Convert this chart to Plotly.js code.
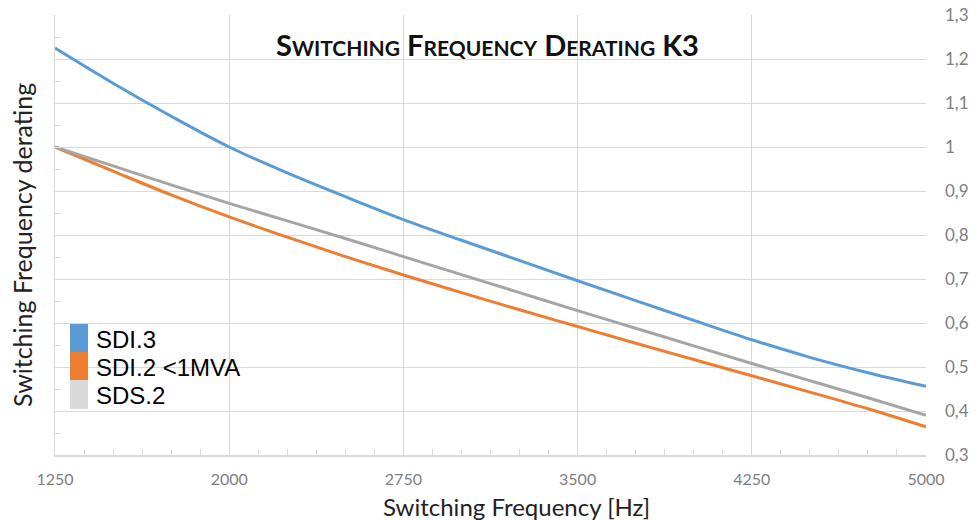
<!DOCTYPE html>
<html>
<head>
<meta charset="utf-8">
<script src="https://cdn.plot.ly/plotly-3.0.1.min.js"></script>
<style>html,body{margin:0;padding:0;background:#fff;}#chart{width:976px;height:520px;}</style>
</head>
<body>
<div id="chart"></div>
<script>
// Switching frequency [Hz]
var freq = [1250, 1500, 1750, 2000, 2250, 2500, 2750, 3000, 3250, 3500, 3750, 4000, 4250, 4500, 4750, 5000];
// Derating factor per series
var sdi3 = [1.225, 1.145, 1.070, 1.0, 0.941, 0.887, 0.835, 0.788, 0.742, 0.696, 0.651, 0.606, 0.562, 0.522, 0.487, 0.456];
var sdi2 = [1.0, 0.945, 0.891, 0.841, 0.795, 0.751, 0.709, 0.669, 0.630, 0.592, 0.554, 0.517, 0.480, 0.443, 0.405, 0.364];
var sds2 = [1.0, 0.957, 0.914, 0.872, 0.832, 0.792, 0.751, 0.710, 0.669, 0.628, 0.588, 0.548, 0.508, 0.469, 0.430, 0.390];
var seriesNames = ["SDI.3", "SDI.2 <1MVA", "SDS.2"];
var lineColors = ["#5b9bd5", "#ed7d31", "#a5a5a5"];
var legendColors = ["#5b9bd5", "#ed7d31", "#d9d9d9"];
var xTicks = [1250, 2000, 2750, 3500, 4250, 5000];

var traces = [
  {x: freq, y: sdi3, name: seriesNames[0], mode: "lines", line: {color: lineColors[0], width: 3, shape: "spline", smoothing: 1}, xaxis: "x", yaxis: "y"},
  {x: freq, y: sdi2, name: seriesNames[1], mode: "lines", line: {color: lineColors[1], width: 3, shape: "spline", smoothing: 1}, xaxis: "x", yaxis: "y"},
  {x: freq, y: sds2, name: seriesNames[2], mode: "lines", line: {color: lineColors[2], width: 3, shape: "spline", smoothing: 1}, xaxis: "x", yaxis: "y2"}
];

var grid = "#d9d9d9";
var shapes = [];
var annotations = [];
// legend blocks (paper coords): plot area is x 55..926, y 15..455
var pw = 871, ph = 440, ml = 55, mt = 15;
function px(x){ return (x - ml) / pw; }
function py(y){ return 1 - (y - mt) / ph; }
var legTop = [324, 352, 380];
var legBot = [352, 380, 409];
for (var i = 0; i < 3; i++) {
  shapes.push({type: "rect", xref: "paper", yref: "paper", x0: px(70), x1: px(88), y0: py(legBot[i]), y1: py(legTop[i]), fillcolor: legendColors[i], line: {width: 0}});
  annotations.push({xref: "paper", yref: "paper", x: px(94), y: py((legTop[i] + legBot[i]) / 2 + 1), xanchor: "left", yanchor: "middle", showarrow: false, text: seriesNames[i].replace("<", "&lt;"), font: {family: "Liberation Sans, Arial, sans-serif", size: 24, color: "#000"}});
}
annotations.push({xref: "paper", yref: "paper", x: px(487), y: py(45), xanchor: "center", yanchor: "middle", showarrow: false,
  text: "<b>S<span style='font-size:21px'>WITCHING</span> F<span style='font-size:21px'>REQUENCY</span> D<span style='font-size:21px'>ERATING</span> K3</b>",
  font: {family: "Lato, sans-serif", size: 29, color: "#111"}});
annotations.push({xref: "paper", yref: "paper", x: px(516), y: py(506), xanchor: "center", yanchor: "middle", showarrow: false,
  text: "Switching Frequency [Hz]", font: {family: "Lato, sans-serif", size: 24, color: "#222"}});
annotations.push({xref: "paper", yref: "paper", x: px(22), y: py(245), xanchor: "center", yanchor: "middle", showarrow: false, textangle: -90,
  text: "Switching Frequency derating", font: {family: "Lato, sans-serif", size: 25, color: "#222"}});

var layout = {
  width: 976, height: 520,
  margin: {l: 55, r: 50, t: 15, b: 65},
  paper_bgcolor: "#fff", plot_bgcolor: "#fff",
  separators: ",.",
  showlegend: false,
  xaxis: {range: [1250, 5000], tickmode: "array", tickvals: xTicks, ticktext: xTicks.map(String),
    showgrid: true, gridcolor: grid, gridwidth: 1, zeroline: false,
    showline: true, linecolor: grid, linewidth: 1.5,
    ticks: "inside", ticklen: 6, tickcolor: grid,
    minor: {tick0: 1250, dtick: 125, ticks: "inside", ticklen: 6, tickcolor: grid, showgrid: false},
    tickfont: {family: "Lato, sans-serif", size: 16, color: "#808080"}, ticklabelstandoff: 9},
  yaxis: {range: [0.3, 1.3], tick0: 0.3, dtick: 0.1, showgrid: true, gridcolor: grid, gridwidth: 1, zeroline: false,
    showline: true, linecolor: grid, linewidth: 1.5, side: "left",
    ticks: "inside", ticklen: 6, tickcolor: grid, showticklabels: false,
    minor: {tick0: 0.3, dtick: 0.05, ticks: "inside", ticklen: 6, tickcolor: grid, showgrid: false}},
  yaxis2: {range: [0.3, 1.3], tick0: 0.3, dtick: 0.1, overlaying: "y", side: "right", showgrid: false, zeroline: false,
    showline: false, ticks: "", showticklabels: true,
    tickfont: {family: "Lato, sans-serif", size: 17, color: "#808080"}, ticklabelstandoff: 18},
  shapes: shapes,
  annotations: annotations
};
Plotly.newPlot("chart", traces, layout, {staticPlot: true, displayModeBar: false});
</script>
</body>
</html>
